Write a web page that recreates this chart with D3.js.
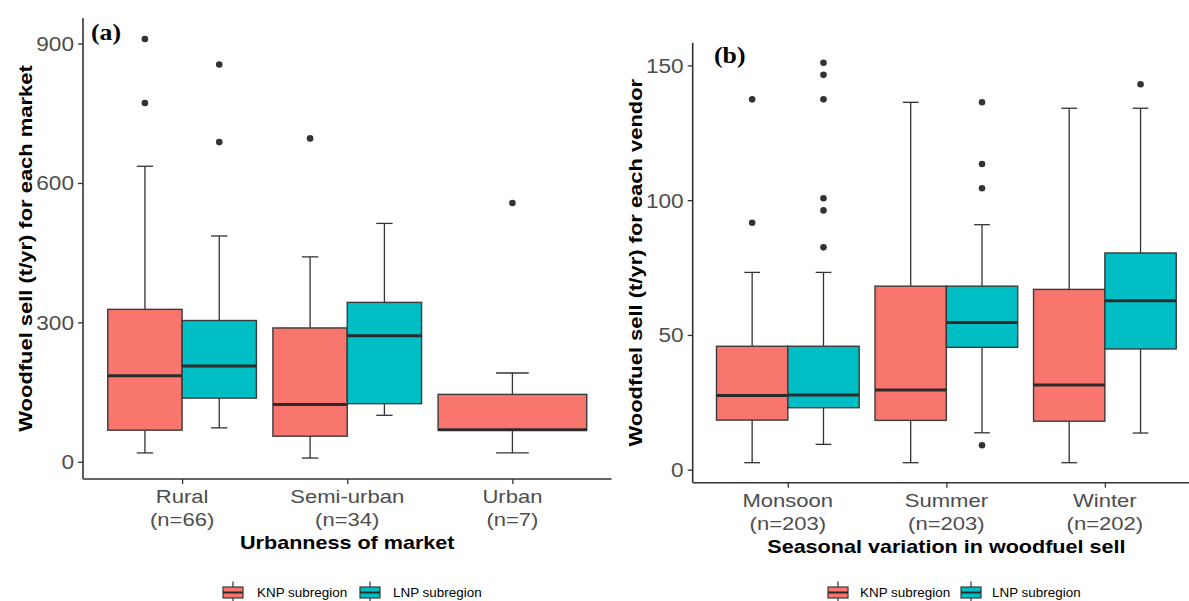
<!DOCTYPE html>
<html><head><meta charset="utf-8">
<script src="https://cdn.jsdelivr.net/npm/d3@7"></script>
<style>body{margin:0;background:#fff}svg{display:block}text{font-family:"Liberation Sans",Arial,sans-serif}text.tag{font-family:"Liberation Serif","Times New Roman",serif}</style>
</head><body>
<svg id="chart" width="1189" height="601"></svg>
<script>
// ---------- Panel (a) data ----------
const categoriesA = ["Rural", "Semi-urban", "Urban"];
const countsA = ["(n=66)", "(n=34)", "(n=7)"];
const ticksA = [0, 300, 600, 900];
const knpA_low = [19, 8, 19];
const knpA_q1 = [68, 55, 68];
const knpA_med = [185, 123, 69];
const knpA_q3 = [328, 288, 145];
const knpA_high = [636, 441, 191];
const knpA_out = [[910, 772], [696], [557]];
const lnpA_low = [73, 100];
const lnpA_q1 = [137, 125];
const lnpA_med = [206, 271];
const lnpA_q3 = [304, 343];
const lnpA_high = [486, 513];
const lnpA_out = [[855, 688], []];

// ---------- Panel (b) data ----------
const categoriesB = ["Monsoon", "Summer", "Winter"];
const countsB = ["(n=203)", "(n=203)", "(n=202)"];
const ticksB = [0, 50, 100, 150];
const knpB_low = [2.6, 2.6, 2.6];
const knpB_q1 = [18.4, 18.3, 18.0];
const knpB_med = [27.5, 29.6, 31.4];
const knpB_q3 = [45.8, 68.1, 66.9];
const knpB_high = [73.2, 136.3, 134.1];
const knpB_out = [[137.4, 91.6], [], []];
const lnpB_low = [9.4, 13.7, 13.6];
const lnpB_q1 = [23.0, 45.4, 44.8];
const lnpB_med = [27.7, 54.6, 62.7];
const lnpB_q3 = [45.8, 68.1, 80.4];
const lnpB_high = [73.2, 90.9, 134.1];
const lnpB_out = [[151, 146.5, 137.4, 100.7, 96.2, 82.5], [136.3, 113.4, 104.4, 9.1], [143]];

const seriesNames = ["KNP subregion", "LNP subregion"];
const seriesColors = ["#F8766D", "#00BFC4"];

const svg = d3.select("#chart");
const SX = 1.16; // horizontal glyph stretch to match reference font

function build(low, q1, med, q3, high, out) {
  return low.map((d, i) => ({ low: d, q1: q1[i], med: med[i], q3: q3[i], high: high[i], out: out[i] }));
}

function panel(cfg) {
  const g = svg.append("g");
  const all = [];
  cfg.series.forEach(s => s.forEach(b => { all.push(b.low, b.high, ...b.out); }));
  const mn = d3.min(all), mx = d3.max(all), pad = (mx - mn) * 0.05;
  const y = d3.scaleLinear().domain([mn - pad, mx + pad]).range([cfg.bottom, cfg.top]);
  const n = cfg.categories.length;
  const x = d3.scaleLinear().domain([0.4, n + 0.6]).range([cfg.left, cfg.right]);
  const unit = x(2) - x(1);
  const dodge = 0.9 * unit;

  cfg.categories.forEach((c, i) => {
    const present = cfg.series.map((s, k) => ({ k, b: s[i] })).filter(o => o.b);
    const w = dodge / present.length;
    present.forEach((o, j) => {
      const b = o.b;
      const cx = x(i + 1) - dodge / 2 + w * (j + 0.5);
      const capW = 0.22 * w;
      const col = "#333333";
      g.append("line").attr("x1", cx).attr("x2", cx).attr("y1", y(b.q3)).attr("y2", y(b.high)).attr("stroke", col).attr("stroke-width", 1.3);
      g.append("line").attr("x1", cx).attr("x2", cx).attr("y1", y(b.q1)).attr("y2", y(b.low)).attr("stroke", col).attr("stroke-width", 1.3);
      g.append("line").attr("x1", cx - capW / 2).attr("x2", cx + capW / 2).attr("y1", y(b.high)).attr("y2", y(b.high)).attr("stroke", col).attr("stroke-width", 1.3);
      g.append("line").attr("x1", cx - capW / 2).attr("x2", cx + capW / 2).attr("y1", y(b.low)).attr("y2", y(b.low)).attr("stroke", col).attr("stroke-width", 1.3);
      g.append("rect").attr("x", cx - w / 2).attr("y", y(b.q3)).attr("width", w).attr("height", y(b.q1) - y(b.q3))
        .attr("fill", seriesColors[o.k]).attr("stroke", "#3a3a3a").attr("stroke-width", 1.4);
      g.append("line").attr("x1", cx - w / 2).attr("x2", cx + w / 2).attr("y1", y(b.med)).attr("y2", y(b.med)).attr("stroke", "#2b2b2b").attr("stroke-width", 3);
      g.selectAll(null).data(b.out).enter().append("circle").attr("cx", cx).attr("cy", d => y(d)).attr("r", 3.3).attr("fill", "#333333");
    });
  });

  const yAx = g.append("g").attr("transform", `translate(${cfg.left},0)`)
    .call(d3.axisLeft(y).tickValues(cfg.ticks).tickSize(5).tickPadding(4));
  const xAx = g.append("g").attr("transform", `translate(0,${cfg.bottom})`)
    .call(d3.axisBottom(x).tickValues(d3.range(1, n + 1)).tickSize(5).tickFormat(""));
  [yAx, xAx].forEach(a => {
    a.select(".domain").attr("stroke", "#333").attr("stroke-width", 1.6).attr("d",
      a === yAx ? `M0,${cfg.bottom}V${cfg.top}` : `M${cfg.left},0H${cfg.right}`);
    a.selectAll(".tick line").attr("stroke", "#333").attr("stroke-width", 1.3);
  });
  yAx.selectAll(".tick text").attr("fill", "#4D4D4D").attr("font-size", 19.5)
    .attr("transform", `translate(-9,0) scale(${SX},1)`)
    .attr("x", 0).attr("dy", "0.35em");
  cfg.categories.forEach((c, i) => {
    [c, cfg.counts[i]].forEach((t, l) => {
      g.append("text").attr("text-anchor", "middle").attr("fill", "#4D4D4D").attr("font-size", 19)
        .attr("transform", `translate(${x(i + 1)},${cfg.bottom + 24 + l * 23}) scale(${SX},1)`).text(t);
    });
  });
  g.append("text").attr("text-anchor", "middle").attr("font-weight", "bold").attr("font-size", 18.6).attr("fill", "#000")
    .attr("transform", `translate(${(cfg.left + cfg.right) / 2 + cfg.xTitleShift},${cfg.bottom + 70}) scale(${SX},1)`).text(cfg.xTitle);
  g.append("text").attr("text-anchor", "middle").attr("font-weight", "bold").attr("font-size", 18.6).attr("fill", "#000")
    .attr("transform", `translate(${cfg.left - 51},${(cfg.top + cfg.bottom) / 2}) rotate(-90) scale(${SX + 0.02},1)`).text(cfg.yTitle);
  g.append("text").attr("class", "tag").attr("font-weight", "bold").attr("font-size", 23)
    .attr("transform", `translate(${cfg.tag[0]},${cfg.tag[1]}) scale(1.12,1)`).text(cfg.tagText);

  const lg = g.append("g");
  seriesNames.forEach((nm, k) => {
    const kx = cfg.legendX[k * 2], tx = cfg.legendX[k * 2 + 1];
    const ky = 592.5, kw = 20, kh = 22;
    lg.append("line").attr("x1", kx + kw / 2).attr("x2", kx + kw / 2).attr("y1", ky - kh / 2).attr("y2", ky + kh / 2).attr("stroke", "#333").attr("stroke-width", 1.2);
    lg.append("rect").attr("x", kx).attr("y", ky - kh / 4).attr("width", kw).attr("height", kh / 2)
      .attr("fill", seriesColors[k]).attr("stroke", "#3a3a3a").attr("stroke-width", 1.2);
    lg.append("line").attr("x1", kx).attr("x2", kx + kw).attr("y1", ky).attr("y2", ky).attr("stroke", "#2b2b2b").attr("stroke-width", 2);
    lg.append("text").attr("font-size", 12).attr("fill", "#000")
      .attr("transform", `translate(${tx},${ky + 4.5}) scale(1.12,1)`).text(nm);
  });
}

panel({
  categories: categoriesA, counts: countsA, ticks: ticksA,
  series: [build(knpA_low, knpA_q1, knpA_med, knpA_q3, knpA_high, knpA_out),
           build(lnpA_low, lnpA_q1, lnpA_med, lnpA_q3, lnpA_high, lnpA_out)],
  left: 83, right: 611.5, top: 18, bottom: 479,
  xTitle: "Urbanness of market", xTitleShift: 0,
  yTitle: "Woodfuel sell (t/yr) for each market",
  tag: [91, 40], tagText: "(a)",
  legendX: [223, 257, 360, 393]
});
panel({
  categories: categoriesB, counts: countsB, ticks: ticksB,
  series: [build(knpB_low, knpB_q1, knpB_med, knpB_q3, knpB_high, knpB_out),
           build(lnpB_low, lnpB_q1, lnpB_med, lnpB_q3, lnpB_high, lnpB_out)],
  left: 692.7, right: 1200, top: 42.7, bottom: 482.7,
  xTitle: "Seasonal variation in woodfuel sell", xTitleShift: 0,
  yTitle: "Woodfuel sell (t/yr) for each vendor",
  tag: [714, 63], tagText: "(b)",
  legendX: [828, 860, 961, 992]
});
</script>
</body></html>
